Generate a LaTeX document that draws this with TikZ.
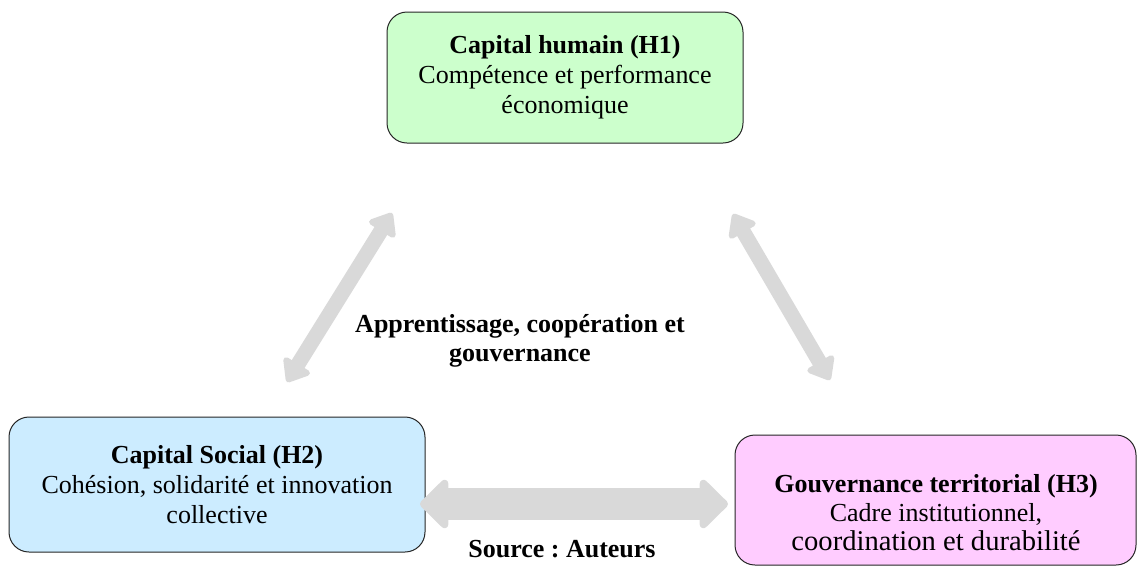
\documentclass[tikz,border=0pt]{standalone}
\usepackage{fontspec}
\setmainfont{Liberation Serif}
\usetikzlibrary{arrows.meta}
\definecolor{vertH}{HTML}{CCFFCC}
\definecolor{bleuH}{HTML}{CCECFF}
\definecolor{roseH}{HTML}{FFCCFF}
\definecolor{grisfl}{HTML}{D9D9D9}
\frenchspacing
\begin{document}
\begin{tikzpicture}[x=0.5pt,y=-0.5pt,
    boite/.style={draw=black!85, line width=0.5pt, rounded corners=10pt, align=center,
        font=\fontsize{13}{15}\selectfont},
    liendiag/.style={grisfl, line width=7.5pt,
        {Triangle[width=17.5pt,length=11.5pt,round]}-{Triangle[width=17.5pt,length=11.5pt,round]}},
    lienhoriz/.style={grisfl, line width=16pt,
        {Triangle[width=28.5pt,length=15pt,round]}-{Triangle[width=28.5pt,length=15pt,round]}}]
        \useasboundingbox (0,0) rectangle (1137,570);

        % Draw the three boxes
        \node[boite, fill=vertH, minimum width=178pt, minimum height=65.5pt] (h1) at (565,77.5)
            {\textbf{Capital humain (H1)}\\Compétence et performance\\économique};
        \node[boite, fill=bleuH, minimum width=208pt, minimum height=67.5pt] (h2) at (217,484.5)
            {\textbf{Capital Social (H2)}\\Cohésion, solidarité et innovation\\collective};
        \node[boite, fill=roseH, minimum width=200.5pt, minimum height=65pt] (h3) at (935.5,500) {};
        \node[align=center, font=\fontsize{13}{14.5}\selectfont] (h3txt) at (936,513)
            {\textbf{Gouvernance territorial (H3)}\\Cadre institutionnel,\\{\fontsize{14.3}{14.5}\selectfont coordination et durabilité}};

        % Arrow ends
        \coordinate (g1) at (287,382);
        \coordinate (g2) at (392,213);
        \coordinate (d1) at (733,214);
        \coordinate (d2) at (830,380);
        \coordinate (b1) at (420,504);
        \coordinate (b2) at (728,504);

        % Draw double arrows
        \draw[liendiag] (g1) -- (g2);
        \draw[liendiag] (d1) -- (d2);
        \draw[lienhoriz] (b1) -- (b2);

        % Labels
        \node[align=center, font=\fontsize{13}{14.5}\selectfont\bfseries] (centre) at (520,341)
            {Apprentissage, coopération et\\gouvernance};
        \node[font=\fontsize{13}{15}\selectfont\bfseries] (source) at (562,549) {Source : Auteurs};
    \end{tikzpicture}
\end{document}
